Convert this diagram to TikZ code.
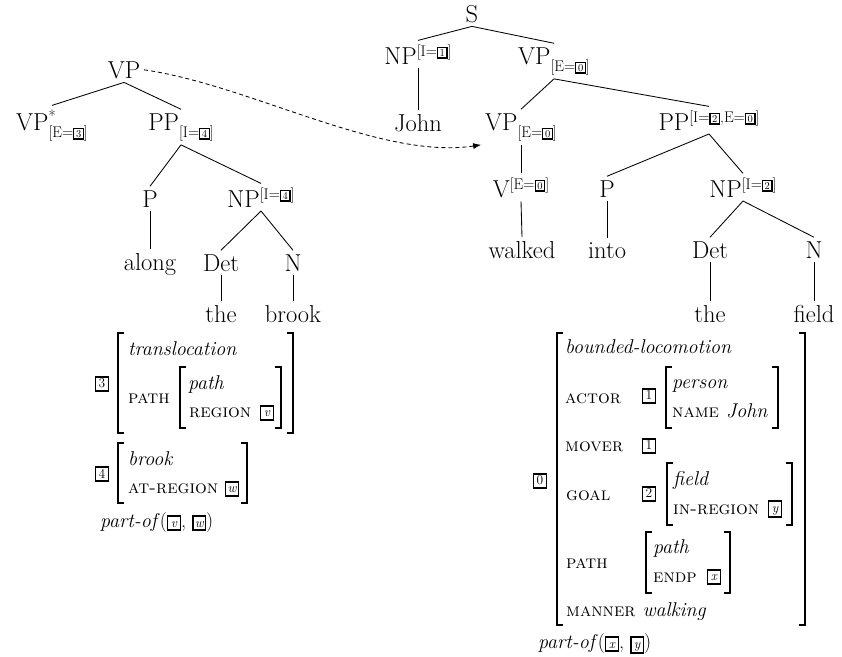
\documentclass[tikz,border=0pt]{standalone}
\usetikzlibrary{arrows.meta}
\newcommand\tg[1]{{\setlength\fboxsep{1.4pt}\setlength\fboxrule{1.4pt}\fbox{\fontsize{13.5}{13.5}\selectfont\upshape\makebox[8.5pt]{\rule[-1pt]{0pt}{9.8pt}#1}}}}
\newcommand\tgi[1]{\tg{\itshape #1}}
\newcommand\tgs[1]{{\setlength\fboxsep{0.9pt}\setlength\fboxrule{1.2pt}\fbox{\fontsize{10.5}{10.5}\selectfont\makebox[6.5pt]{\rule[-0.5pt]{0pt}{7.8pt}#1}}}}
\newcommand\fsup[1]{\raisebox{8pt}{\fontsize{15.5}{15.5}\selectfont #1}}
\newcommand\fsub[1]{\raisebox{-7pt}{\fontsize{15.5}{15.5}\selectfont #1}}
\newcommand\fsc[1]{{\fontsize{18.5}{22}\selectfont\textsc{#1}}}
\newcommand\LB[3]{\draw[brk] ({#1+6},#2) -- (#1,#2) -- (#1,#3) -- ({#1+6},#3);}
\newcommand\RB[3]{\draw[brk] ({#1-6},#2) -- (#1,#2) -- (#1,#3) -- ({#1-6},#3);}
\begin{document}
\begin{tikzpicture}[x=1pt,y=-1pt,
  tn/.style={font=\fontsize{24.5}{28}\selectfont, inner sep=2pt, outer sep=2pt, anchor=base},
  edge/.style={line width=0.85pt},
  brk/.style={line width=1.3pt},
  avm/.style={font=\fontsize{20}{23}\selectfont, inner sep=0pt, anchor=base west},
  tag/.style={inner sep=0pt, anchor=center}]
\useasboundingbox (0,0) rectangle (842,656);
% ---------- right tree ----------
\node[tn] (S) at (472,22) {S};
\node[tn] (NP1) at (418,64) {NP\fsup{[I=\tgs{1}]}};
\node[tn] (VPtop) at (554,64) {VP\fsub{[E=\tgs{0}]}};
\node[tn] (John) at (418,131) {John};
\node[tn] (VPr) at (521,130) {VP\fsub{[E=\tgs{0}]}};
\node[tn] (PPr) at (709,130) {PP\fsup{[I=\tgs{2},E=\tgs{0}]}};
\node[tn] (V) at (521,197) {V\fsup{[E=\tgs{0}]}};
\node[tn] (Pr) at (607,197) {P};
\node[tn] (NPr) at (743,197) {NP\fsup{[I=\tgs{2}]}};
\node[tn] (walked) at (522,258) {walked};
\node[tn] (into) at (607,258) {into};
\node[tn] (Detr) at (710,258) {Det};
\node[tn] (Nr) at (814,258) {N};
\node[tn] (ther) at (710,322) {the};
\node[tn] (field) at (814,322) {field};
\foreach \a/\b in {S/NP1,S/VPtop,NP1/John,VPtop/VPr,VPtop/PPr,VPr/V,V/walked,PPr/Pr,PPr/NPr,Pr/into,NPr/Detr,NPr/Nr,Detr/ther,Nr/field}
  \draw[edge] (\a.south) -- (\b.north);
% ---------- left tree ----------
\node[tn] (VPl) at (124,78) {VP};
\node[tn] (VPs) at (52,130) {VP\rlap{\raisebox{9pt}{\fontsize{15.5}{15.5}\selectfont *}}\fsub{[E=\tgs{3}]}};
\node[tn] (PPl) at (181,130) {PP\fsub{[I=\tgs{4}]}};
\node[tn] (Pl) at (150,207) {P};
\node[tn] (NPl) at (261,207) {NP\fsup{[I=\tgs{4}]}};
\node[tn] (along) at (150,270) {along};
\node[tn] (Detl) at (221,271) {Det};
\node[tn] (Nl) at (293,271) {N};
\node[tn] (thel) at (221,322) {the};
\node[tn] (brook) at (293,322) {brook};
\foreach \a/\b in {VPl/VPs,VPl/PPl,PPl/Pl,PPl/NPl,Pl/along,NPl/Detl,NPl/Nl,Detl/thel,Nl/brook}
  \draw[edge] (\a.south) -- (\b.north);
% dashed adjunction arrow
\draw[line width=0.85pt, dash pattern=on 4pt off 3pt, -{Latex[length=8pt,width=6pt]}]
  (VPl.east) .. controls (250,85) and (380,160) .. (VPr.south west);
% ---------- left AVMs ----------
\node[tag] (t3) at (102,384) {\tg{3}};
\LB{118}{333}{433} \RB{293}{333}{433}
\node[avm] (transl) at (128,355) {\itshape translocation};
\node[avm] (pathA) at (128,403) {\fsc{path}};
\LB{180}{367}{428} \RB{281}{367}{428}
\node[avm] (pathB) at (188,389) {\itshape path};
\node[avm] (region) at (189,417) {\fsc{region}};
\node[tag] (tv) at (267,413) {\tgi{v}};
\node[tag] (t4) at (102,474) {\tg{4}};
\LB{118}{443}{503} \RB{247}{443}{503}
\node[avm] (brookT) at (128,465) {\itshape brook};
\node[avm] (atreg) at (128,493) {\fsc{at-region}};
\node[tag] (tw) at (232,489) {\tgi{w}};
\node[avm] (partl) at (100,527) {\itshape part-of\/\upshape(\tgi{v}, \tgi{w})};
% ---------- right AVM ----------
\node[tag] (t0) at (540,481) {\tg{0}};
\LB{557}{333}{625} \RB{805}{333}{625}
\node[avm] (bl) at (565,353) {\itshape bounded-locomotion};
\node[avm] (actor) at (565,403) {\fsc{actor}};
\node[tag] (t1a) at (649,396) {\tg{1}};
\LB{666}{367}{428} \RB{778}{367}{428}
\node[avm] (person) at (672,388) {\itshape person};
\node[avm] (name) at (672,417) {\fsc{name}\hspace{7pt}\textit{John}};
\node[avm] (mover) at (565,451) {\fsc{mover}};
\node[tag] (t1b) at (649,446) {\tg{1}};
\node[avm] (goal) at (566,500) {\fsc{goal}};
\node[tag] (t2) at (649,494) {\tg{2}};
\LB{667}{463}{525} \RB{792}{463}{525}
\node[avm] (fieldT) at (673,485) {\itshape field};
\node[avm] (inreg) at (673,514) {\fsc{in-region}};
\node[tag] (ty) at (775,509) {\tgi{y}};
\node[avm] (pathC) at (566,568) {\fsc{path}};
\LB{646}{532}{593} \RB{730}{532}{593}
\node[avm] (pathD) at (653,553) {\itshape path};
\node[avm] (endp) at (653,582) {\fsc{endp}};
\node[tag] (tx) at (714,577) {\tgi{x}};
\node[avm] (manner) at (566,616) {\fsc{manner}\hspace{7pt}\textit{walking}};
\node[avm] (partr) at (538,648) {\itshape part-of\/\upshape(\tgi{x}, \tgi{y})};
\end{tikzpicture}
\end{document}
